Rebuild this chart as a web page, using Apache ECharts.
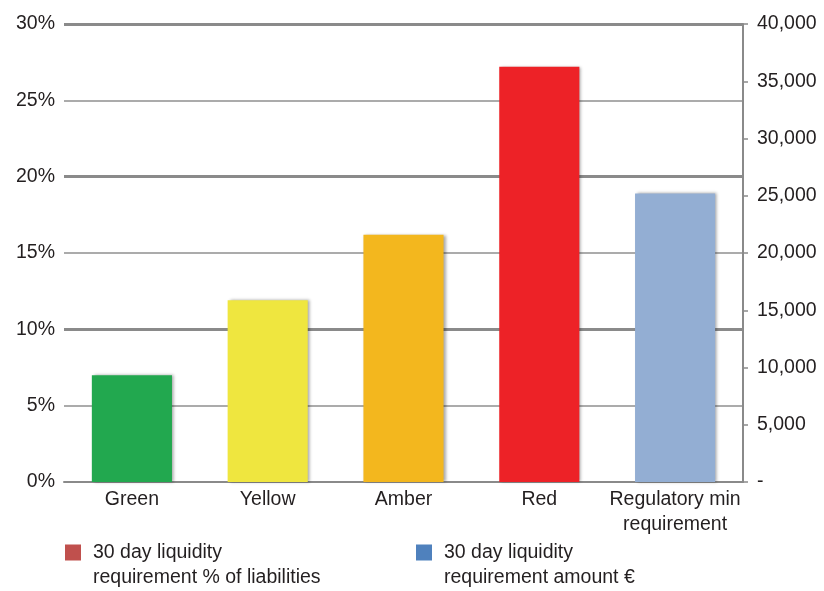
<!DOCTYPE html>
<html>
<head>
<meta charset="utf-8">
<script src="https://cdn.jsdelivr.net/npm/echarts@6/dist/echarts.min.js"></script>
<style>
  html, body { margin: 0; padding: 0; background: #fff; }
  #chart { width: 824px; height: 591px; }
</style>
</head>
<body>
<div id="chart"></div>
<script>
var categories = ['Green', 'Yellow', 'Amber', 'Red', 'Regulatory min\nrequirement'];
var pctValues = [7.0, 11.9, 16.2, 27.2, 18.9];
var barColors = ['#22a84f', '#efe63f', '#f3b71e', '#ed2227', '#93aed3'];
var amountValues = [null, null, null, null, null];
var seriesNames = ['30 day liquidity\nrequirement % of liabilities', '30 day liquidity\nrequirement amount €'];

var myChart = echarts.init(document.getElementById('chart'));
var font = 'Liberation Sans, Arial, sans-serif';
var fs = 19.5;

// swatch plus an invisible dot so the text sits a bit further right
var legendIcon = 'path://M0,0H16V16H0Z M23,0H23.01V0.01H23Z';

// legend items: the leading blank line puts the swatch next to the first text line
function legendAt(name, left) {
    return {
        data: [name],
        left: left,
        top: 510,
        icon: legendIcon,
        itemWidth: 23.01,
        itemHeight: 16,
        selectedMode: false,
        formatter: function (n) { return '\n' + n; },
        textStyle: {
            fontFamily: font,
            fontSize: fs,
            color: '#231f20',
            lineHeight: 25
        }
    };
}

var option = {
    animation: false,
    grid: { left: 64, right: 81, top: 24, bottom: 109, containLabel: false },
    legend: [legendAt(seriesNames[0], 60), legendAt(seriesNames[1], 411)],
    xAxis: {
        type: 'category',
        data: categories,
        axisLine: { lineStyle: { color: '#8a8a8a', width: 2 } },
        axisTick: { show: false },
        axisLabel: {
            interval: 0,
            fontFamily: font, fontSize: fs, color: '#231f20',
            margin: 5, lineHeight: 25
        }
    },
    yAxis: [
        {
            type: 'value', position: 'left',
            min: 0, max: 30, interval: 5,
            axisLine: { show: false },
            axisTick: { show: false },
            axisLabel: { formatter: '{value}%', fontFamily: font, fontSize: fs, color: '#231f20', margin: 9 },
            splitLine: { showMinLine: false, lineStyle: { color: '#8f8f8f', width: 1.5 } }
        },
        {
            type: 'value', position: 'right',
            min: 0, max: 40000, interval: 5000,
            axisLine: { show: true, lineStyle: { color: '#8a8a8a', width: 2 } },
            axisTick: { show: true, length: 5, lineStyle: { color: '#8a8a8a', width: 1.5 } },
            axisLabel: {
                fontFamily: font, fontSize: fs, color: '#231f20', margin: 14,
                formatter: function (v) { return v === 0 ? '-' : v.toLocaleString('en-US'); }
            },
            splitLine: { show: false }
        },
        {
            // heavier lines every 10%
            type: 'value', position: 'left',
            min: 0, max: 30, interval: 10,
            axisLine: { show: false },
            axisTick: { show: false },
            axisLabel: { show: false },
            splitLine: { showMinLine: false, lineStyle: { color: '#8a8a8a', width: 3 } }
        }
    ],
    series: [
        {
            name: seriesNames[0],
            type: 'bar',
            yAxisIndex: 0,
            barWidth: '59%',
            itemStyle: { color: '#c0504d' },
            data: pctValues.map(function (v, i) {
                return {
                    value: v,
                    itemStyle: {
                        color: barColors[i],
                        shadowColor: 'rgba(0,0,0,0.35)',
                        shadowBlur: 3,
                        shadowOffsetX: 2,
                        shadowOffsetY: 0
                    }
                };
            })
        },
        {
            name: seriesNames[1],
            type: 'bar',
            yAxisIndex: 1,
            barWidth: '59%',
            barGap: '-100%',
            itemStyle: { color: '#4f81bd' },
            data: amountValues
        }
    ]
};
myChart.setOption(option);
</script>
</body>
</html>
